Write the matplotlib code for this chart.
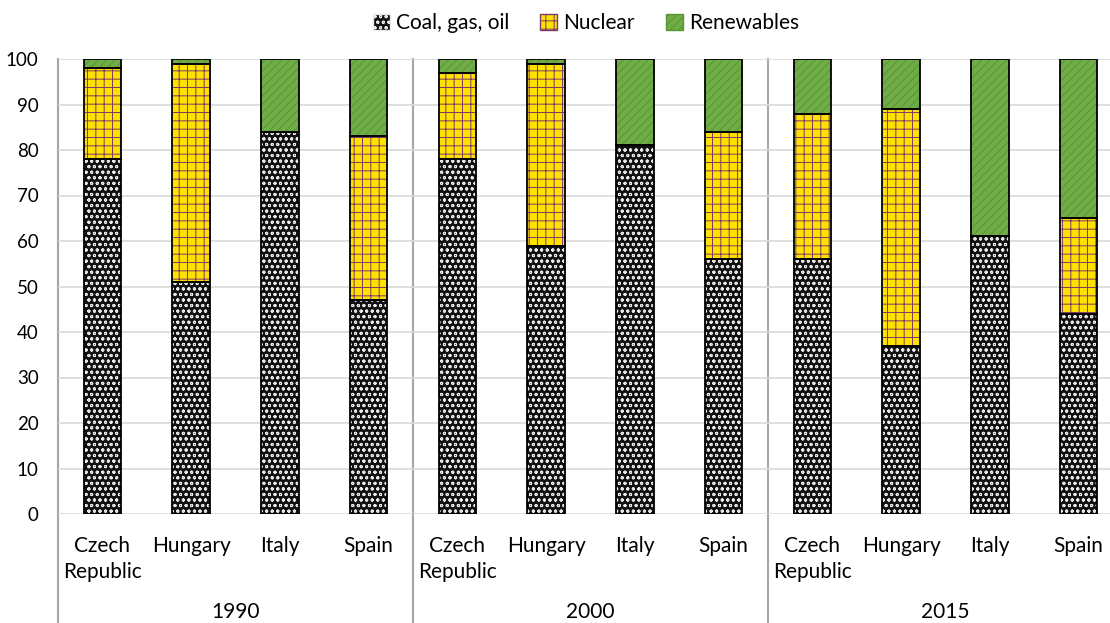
import matplotlib.pyplot as plt
import matplotlib.transforms as mtransforms
from matplotlib.patches import Patch
import numpy as np

plt.rcParams['font.family'] = ['Lato', 'DejaVu Sans']
plt.rcParams['hatch.linewidth'] = 0.7

# data (percent of generation)
years = ['1990', '2000', '2015']
countries = ['Czech\nRepublic', 'Hungary', 'Italy', 'Spain']
coal = [78, 51, 84, 47,
        78, 59, 81, 56,
        56, 37, 61, 44]
nuclear = [20, 48, 0, 36,
           19, 40, 0, 28,
           32, 52, 0, 21]
renewables = [2, 1, 16, 17,
              3, 1, 19, 16,
              12, 11, 39, 35]

n = len(coal)
x = np.arange(n)
coal = np.array(coal)
nuclear = np.array(nuclear)
renewables = np.array(renewables)

fig = plt.figure(figsize=(11.1, 6.23), dpi=100)
ax = fig.add_axes([58 / 1110, 1 - 514 / 623, 1065 / 1110, 455 / 623])

w = 0.42
coal_style = dict(color='#111111', edgecolor='#e8e8e8', hatch='ooo')
nuc_style = dict(color='#ffe100', edgecolor='#7a3a6a', hatch='++')
ren_style = dict(color='#70ad47', edgecolor='#5a9436', hatch='////')
for vals, bottom, st in [(coal, np.zeros(n), coal_style),
                         (nuclear, coal, nuc_style),
                         (renewables, coal + nuclear, ren_style)]:
    ax.bar(x, vals, w, bottom=bottom, linewidth=0, zorder=3, **st)
    ax.bar(x, vals, w, bottom=bottom, fill=False, edgecolor='black',
           linewidth=1.3, zorder=4)

ax.set_ylim(0, 100)
ax.set_xlim(-0.5, n - 0.5)
ax.set_yticks(range(0, 101, 10))
ax.tick_params(axis='y', length=0, labelsize=13.5, pad=14)
ax.tick_params(axis='x', length=0)
ax.set_xticks([])
ax.grid(axis='y', color='#d9d9d9', linewidth=1.2, zorder=0)
for s in ax.spines.values():
    s.set_visible(False)

trans = mtransforms.blended_transform_factory(ax.transData, ax.transAxes)
# category and year labels
for i in range(n):
    ax.text(x[i], -0.048, countries[i % 4], transform=trans, ha='center',
            va='top', fontsize=15, linespacing=1.4)
for g, yr in enumerate(years):
    ax.text(4 * g + 1.5, -0.215, yr, transform=trans, ha='center', va='center',
            fontsize=15)
# group separators
for g in range(len(years) + 1):
    ax.plot([4 * g - 0.5, 4 * g - 0.5], [1, -0.25], transform=trans,
            color='#a6a6a6', linewidth=1.5, clip_on=False, zorder=1)

handles = [
    Patch(facecolor='#111111', edgecolor='#e8e8e8', hatch='ooo', label='Coal, gas, oil'),
    Patch(facecolor='#ffe100', edgecolor='#7a3a6a', hatch='++', label='Nuclear'),
    Patch(facecolor='#70ad47', edgecolor='#5a9436', hatch='////', label='Renewables'),
]
fig.legend(handles=handles, loc='center', bbox_to_anchor=(0.528, 0.963), ncol=3,
           frameon=False, fontsize=15, handlelength=0.8, handleheight=0.8,
           handletextpad=0.3, columnspacing=1.5)

fig.savefig('out.png', dpi=100)
